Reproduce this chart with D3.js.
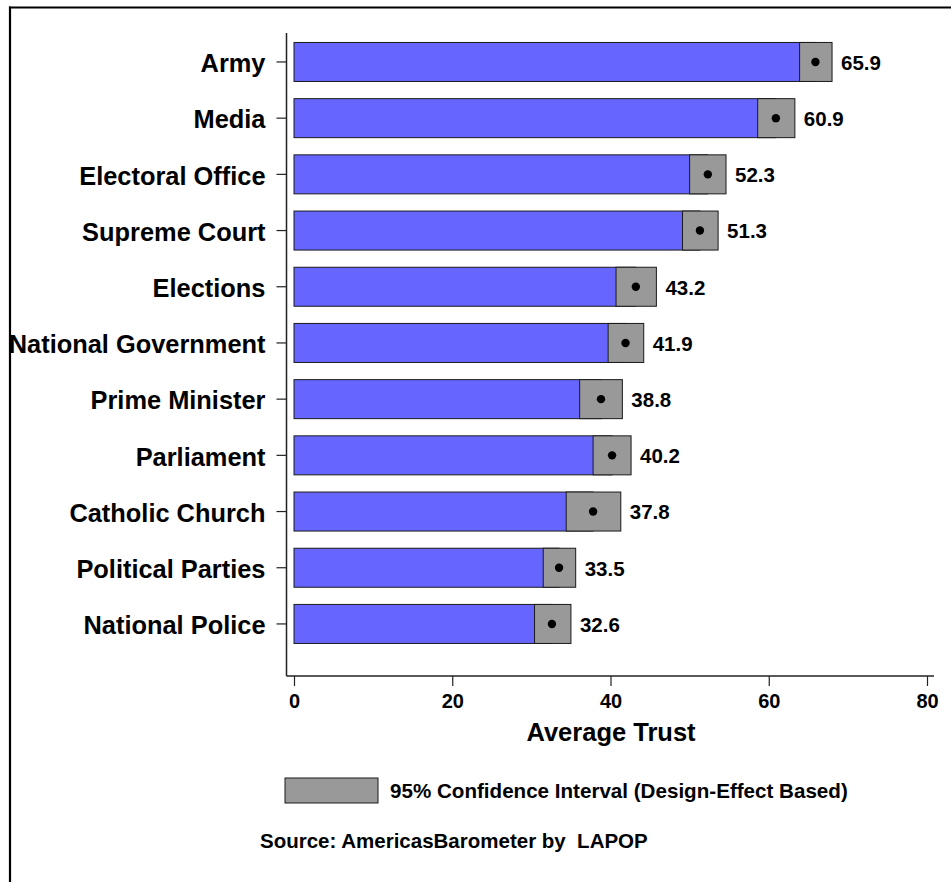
<!DOCTYPE html>
<html>
<head>
<meta charset="utf-8">
<script src="https://cdn.jsdelivr.net/npm/d3@7"></script>
<style>
  html, body { margin: 0; padding: 0; background: #fff; }
  svg { display: block; }
  text { font-family: "Liberation Sans", Arial, Helvetica, sans-serif; font-weight: bold; fill: #000; }
</style>
</head>
<body>
<svg id="chart" width="951" height="882"></svg>
<script>
const categories = ["Army", "Media", "Electoral Office", "Supreme Court", "Elections",
  "National Government", "Prime Minister", "Parliament", "Catholic Church",
  "Political Parties", "National Police"];
const means  = [65.9, 60.9, 52.3, 51.3, 43.2, 41.9, 38.8, 40.2, 37.8, 33.5, 32.6];
const ciLow  = [63.9, 58.6, 50.0, 49.1, 40.7, 39.7, 36.1, 37.8, 34.4, 31.5, 30.4];
const ciHigh = [68.0, 63.3, 54.6, 53.6, 45.8, 44.2, 41.5, 42.6, 41.3, 35.6, 35.0];
const xTicks = [0, 20, 40, 60, 80];
const xTitle = "Average Trust";
const legendLabel = "95% Confidence Interval (Design-Effect Based)";
const sourceLabel = "Source: AmericasBarometer by  LAPOP";

const rows = categories.map((c, i) => ({ cat: c, mean: means[i], lo: ciLow[i], hi: ciHigh[i] }));

const svg = d3.select("#chart");

// frame (top and left edges visible)
svg.append("line").attr("x1", 9).attr("x2", 951).attr("y1", 7.5).attr("y2", 7.5)
  .attr("stroke", "#000").attr("stroke-width", 2.2);
svg.append("line").attr("x1", 10).attr("x2", 10).attr("y1", 6.5).attr("y2", 882)
  .attr("stroke", "#000").attr("stroke-width", 2.2);

const x = d3.scaleLinear().domain([0, 80]).range([294, 927]);
const y = d3.scaleBand().domain(categories).range([25.6, 660.3])
  .paddingInner(0.306).paddingOuter(0.3);

const axisY = 676;
const axisX = 286.5;

// bars (blue, to the mean)
svg.append("g").selectAll("rect").data(rows).join("rect")
  .attr("x", x(0)).attr("y", d => y(d.cat))
  .attr("width", d => x(d.mean) - x(0)).attr("height", y.bandwidth())
  .attr("fill", "#6666ff").attr("stroke", "#1a1a1a").attr("stroke-width", 1);

// CI boxes
svg.append("g").selectAll("rect").data(rows).join("rect")
  .attr("x", d => x(d.lo)).attr("y", d => y(d.cat))
  .attr("width", d => x(d.hi) - x(d.lo)).attr("height", y.bandwidth())
  .attr("fill", "#999999").attr("stroke", "#1a1a1a").attr("stroke-width", 1);

// mean dots
svg.append("g").selectAll("circle").data(rows).join("circle")
  .attr("cx", d => x(d.mean)).attr("cy", d => y(d.cat) + y.bandwidth() / 2)
  .attr("r", 4.2).attr("fill", "#000");

// value labels
svg.append("g").selectAll("text").data(rows).join("text")
  .attr("x", d => x(d.hi) + 9).attr("y", d => y(d.cat) + y.bandwidth() / 2)
  .attr("dy", "0.38em").style("font-size", "20.5px")
  .text(d => d.mean.toFixed(1));

// Y axis
const yAxis = d3.axisLeft(y).tickSize(10).tickPadding(11).tickSizeOuter(0);
const gy = svg.append("g").attr("transform", `translate(${axisX},0)`).call(yAxis);
gy.select(".domain").remove();
gy.selectAll(".tick line").attr("stroke", "#222").attr("stroke-width", 1.2);
gy.selectAll(".tick text").style("font-size", "25.4px").style("font-family", null)
  .attr("dy", "0.4em").attr("fill", "#000");
svg.append("line").attr("x1", axisX).attr("x2", axisX).attr("y1", 33).attr("y2", axisY)
  .attr("stroke", "#222").attr("stroke-width", 1.5);

// X axis
const xAxis = d3.axisBottom(x).tickValues(xTicks).tickSize(10).tickPadding(8).tickSizeOuter(0);
const gx = svg.append("g").attr("transform", `translate(0,${axisY})`).call(xAxis);
gx.select(".domain").remove();
gx.selectAll(".tick line").attr("stroke", "#222").attr("stroke-width", 1.2);
gx.selectAll(".tick text").style("font-size", "20px").style("font-family", null)
  .attr("fill", "#000");
svg.append("line").attr("x1", axisX).attr("x2", 934).attr("y1", axisY).attr("y2", axisY)
  .attr("stroke", "#222").attr("stroke-width", 1.5);

svg.append("text").attr("x", 611).attr("y", 741).attr("text-anchor", "middle")
  .style("font-size", "25.5px").text(xTitle);

// legend
svg.append("rect").attr("x", 285).attr("y", 778).attr("width", 93).attr("height", 25)
  .attr("fill", "#999999").attr("stroke", "#1a1a1a").attr("stroke-width", 1);
svg.append("text").attr("x", 390).attr("y", 791).attr("dy", "0.36em")
  .style("font-size", "20.6px").text(legendLabel);

// source
svg.append("text").attr("x", 260).attr("y", 841).attr("dy", "0.36em")
  .style("font-size", "20.5px").style("white-space", "pre").attr("xml:space", "preserve")
  .text(sourceLabel);
</script>
</body>
</html>
